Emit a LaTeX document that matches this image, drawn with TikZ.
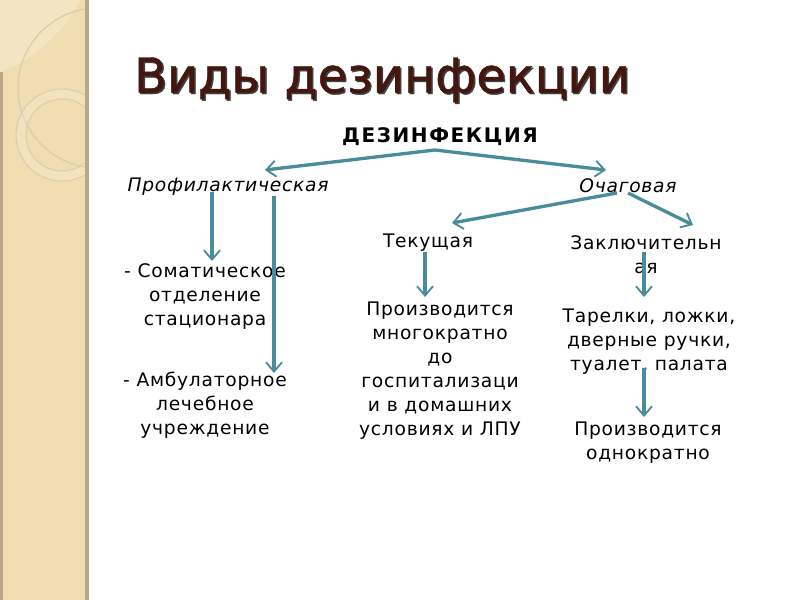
\documentclass[tikz,border=0pt]{standalone}
\usepackage{fontspec}
\setmainfont{DejaVu Sans}[LetterSpace=4]
\newfontfamily\headfont{DejaVu Sans}[LetterSpace=8]
\newfontfamily\titlefont{DejaVu Sans}[FakeBold=1]
\usetikzlibrary{arrows.meta}
\definecolor{arrc}{HTML}{4A8C9C}
\definecolor{titlec}{HTML}{43170F}
\definecolor{barc}{HTML}{F0DDB2}
\definecolor{baredge}{HTML}{B8A888}
\definecolor{ringedge}{HTML}{D8CBA8}
\begin{document}
\begin{tikzpicture}[x=0.75pt,y=-0.75pt,
  arr/.style={draw=arrc, line width=2.5pt, -{Straight Barb[length=7pt,width=12pt,line width=1.4pt]}},
  txt/.style={font=\fontsize{14}{18}\selectfont, align=center, inner sep=0pt, text=black},
  ital/.style={txt, font=\fontsize{14}{18}\selectfont\itshape},
  titlestyle/.style={font=\titlefont\fontsize{36}{40}\selectfont, inner sep=0pt}
]
\useasboundingbox (0,0) rectangle (800,600);
\fill[white] (0,0) rectangle (800,600);
% left decorative bar
\fill[barc] (0,0) rectangle (88,600);
\fill[baredge] (0,72) rectangle (3,600);
\fill[baredge] (85,0) rectangle (89,600);
\begin{scope}
  \clip (0,0) rectangle (85,600);
  \fill[white, opacity=0.22] (0,0) -- (0,72) .. controls (30,62) and (62,35) .. (80,0) -- cycle;
  \draw[ringedge, line width=0.8pt] (98,88) circle (80);
  \fill[white, opacity=0.15, even odd rule] (62,135) circle (46) (62,135) circle (36);
  \draw[ringedge, line width=0.7pt] (62,135) circle (46);
  \draw[ringedge, line width=0.7pt] (62,135) circle (36);
\end{scope}

% title
\node[titlestyle, text=black!75] at (383.5,81.5) {Виды дезинфекции};
\node[titlestyle, text=titlec] (title) at (382,80) {Виды дезинфекции};

% nodes
\node[txt, font=\headfont\fontsize{15}{18}\selectfont\bfseries] (dez) at (440,137) {ДЕЗИНФЕКЦИЯ};
\node[ital] (prof) at (228,187) {Профилактическая};
\node[ital] (och) at (628,186) {Очаговая};
\node[txt] (tek) at (428,243) {Текущая};
\node[txt] (zak) at (646,255) {Заключительн\\ая};
\node[txt] (som) at (205,297) {- Соматическое\\отделение\\стационара};
\node[txt] (amb) at (205,405) {- Амбулаторное\\лечебное\\учреждение};
\node[txt] (mnog) at (440,371) {Производится\\многократно\\до\\госпитализаци\\и в домашних\\условиях и ЛПУ};
\node[txt] (tar) at (649,342) {Тарелки, ложки,\\дверные ручки,\\туалет, палата};
\node[txt] (odn) at (648,443) {Производится\\однократно};

% connector end points
\coordinate (apex) at (435,150);
\coordinate (profend) at (265,170);
\coordinate (ochend) at (606,170);
\coordinate (p1s) at (212,192);
\coordinate (p1e) at (212,261);
\coordinate (p2s) at (274,196);
\coordinate (p2e) at (274,373);
\coordinate (o1s) at (617,193);
\coordinate (o1e) at (452,223);
\coordinate (o2s) at (628,193);
\coordinate (o2e) at (693,225);
\coordinate (t1s) at (425,252);
\coordinate (t1e) at (425,297);
\coordinate (z1s) at (644,252);
\coordinate (z1e) at (644,297);
\coordinate (z2s) at (644,368);
\coordinate (z2e) at (644,417);

\draw[arr] (apex) -- (profend);
\draw[arr] (apex) -- (ochend);
\draw[arr] (p1s) -- (p1e);
\draw[arr] (p2s) -- (p2e);
\draw[arr] (o1s) -- (o1e);
\draw[arr] (o2s) -- (o2e);
\draw[arr] (t1s) -- (t1e);
\draw[arr] (z1s) -- (z1e);
\draw[arr] (z2s) -- (z2e);
\end{tikzpicture}
\end{document}
